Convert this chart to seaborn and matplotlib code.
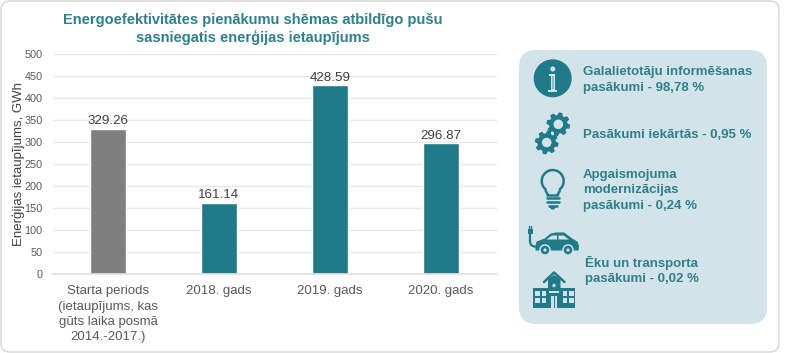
import numpy as np
import matplotlib.pyplot as plt
import seaborn as sns
import pandas as pd
from matplotlib.patches import Circle, FancyBboxPatch, Polygon, Rectangle, Wedge

kategorijas = [
    "Starta periods\n(ietaupījums, kas\ngūts laika posmā\n2014.-2017.)",
    "2018. gads",
    "2019. gads",
    "2020. gads",
]
vertibas = [329.26, 161.14, 428.59, 296.87]
y_ticks = [0, 50, 100, 150, 200, 250, 300, 350, 400, 450, 500]
virsraksts = "Energoefektivitātes pienākumu shēmas atbildīgo pušu\nsasniegatis enerģijas ietaupījums"
y_nosaukums = "Enerģijas ietaupījums, GWh"
teksti = [
    "Galalietotāju informēšanas\npasākumi - 98,78 %",
    "Pasākumi iekārtās - 0,95 %",
    "Apgaismojuma\nmodernizācijas\npasākumi - 0,24 %",
    "Ēku un transporta\npasākumi - 0,02 %",
]

TEAL = "#217a8a"
TITLE = "#2f7f8d"
PANEL = "#d2e3e9"
W, H = 800, 353

sns.set_theme(style="white")
plt.rcParams["font.family"] = ["Liberation Sans", "DejaVu Sans"]

fig = plt.figure(figsize=(8, 3.53), dpi=100, facecolor="white")

# overlay in pixel coordinates for the card, panel and icons
bg = fig.add_axes([0, 0, 1, 1], zorder=0)
bg.set_xlim(0, W)
bg.set_ylim(H, 0)
bg.axis("off")
bg.add_patch(FancyBboxPatch((1, 1), 778, 351, boxstyle="round,pad=0,rounding_size=9",
                            fc="white", ec="#d4d4d4", lw=1))
bg.add_patch(FancyBboxPatch((519, 50), 248, 274, boxstyle="round,pad=0,rounding_size=17",
                            fc=PANEL, ec="none"))

ax = fig.add_axes([52.5 / W, 1 - 274 / H, 444 / W, 220 / H], zorder=1)
ax.patch.set_alpha(0)
df = pd.DataFrame({"kategorija": kategorijas, "vertiba": vertibas})
sns.barplot(data=df, x="kategorija", y="vertiba", hue="kategorija", legend=False,
            palette=["#7f7f7f", TEAL, TEAL, TEAL], width=0.32, saturation=1, ax=ax)
ax.set_xlim(-0.5, 3.5)
ax.set_ylim(0, 500)
ax.set_yticks(y_ticks)
ax.grid(axis="y", color="#e8e8e8", lw=1)
ax.set_axisbelow(True)
sns.despine(ax=ax, left=True, top=True, right=True)
ax.spines["bottom"].set_color("#e0e0e0")
ax.tick_params(axis="y", length=0, labelsize=7.8, labelcolor="#595959", pad=7)
ax.tick_params(axis="x", length=0, labelsize=9.5, labelcolor="#595959", pad=8)
ax.set_xlabel("")
ax.set_ylabel(y_nosaukums, fontsize=9.5, color="#404040")
ax.yaxis.set_label_coords(-0.062, 0.5)
for lab in ax.get_xticklabels():
    lab.set_linespacing(1.38)
for i, v in enumerate(vertibas):
    ax.text(i, v + 4, f"{v:.2f}", ha="center", va="bottom", fontsize=9.6, color="#404040")

fig.text(253 / W, 1 - 29 / H, virsraksts, ha="center", va="center", fontsize=10.5,
         fontweight="bold", color=TITLE, linespacing=1.24)

# panel labels
bg.text(583, 80, teksti[0], va="center", fontsize=9.5, fontweight="bold", color=TITLE, linespacing=1.42)
bg.text(583, 135, teksti[1], va="center", fontsize=9.5, fontweight="bold", color=TITLE)
bg.text(583, 190.5, teksti[2], va="center", fontsize=9.5, fontweight="bold", color=TITLE, linespacing=1.4)
bg.text(585, 270.5, teksti[3], va="center", fontsize=9.5, fontweight="bold", color=TITLE, linespacing=1.38)


def gear(cx, cy, r_out, r_in, r_hole, teeth=8):
    step = 2 * np.pi / teeth
    ang = np.concatenate([[a - 0.16 * step, a + 0.16 * step, a + 0.3 * step, a + 0.7 * step]
                          for a in np.arange(teeth) * step]) + 0.2
    rad = np.tile([r_out, r_out, r_in, r_in], teeth)
    bg.add_patch(Polygon(np.c_[cx + rad * np.cos(ang), cy + rad * np.sin(ang)],
                         fc=TEAL, ec=TEAL, lw=1, joinstyle="round"))
    bg.add_patch(Circle((cx, cy), r_hole, fc=PANEL, ec="none"))


# info icon
bg.add_patch(Circle((552.7, 78.3), 19, fc=TEAL, ec="none"))
bg.add_patch(Circle((552.8, 69), 2.5, fc=PANEL, ec="none"))
bg.add_patch(Rectangle((550.7, 74), 4.4, 16, fc=PANEL, ec="none"))
bg.add_patch(Rectangle((549, 74), 3, 1.6, fc=PANEL, ec="none"))
bg.add_patch(Rectangle((548.3, 89.8), 9, 2.2, fc=PANEL, ec="none"))
bg.add_patch(Rectangle((552.2, 75.5), 1.4, 13.5, fc="#8fbac4", ec="none"))

# gears
gear(558.3, 124.3, 11.2, 8.6, 4.8)
gear(546.7, 142.5, 11.2, 8.6, 4.8)

# bulb
bg.add_patch(Wedge((552.7, 181), 12.2, 125, 55, width=2.5, fc=TEAL, ec="none"))
bg.plot([545.7, 547.5, 547.5, 558, 558, 559.7], [191, 194, 195.5, 195.5, 194, 191],
        color=TEAL, lw=1.8, solid_capstyle="round")
bg.plot([546.7, 559], [198.2, 198.2], color=TEAL, lw=1.8)
bg.plot([547, 558.5], [202, 202], color=TEAL, lw=1.8)
bg.plot([548.5, 557], [205.8, 205.8], color=TEAL, lw=1.8)
bg.add_patch(Polygon([(549.5, 207), (556, 207), (554, 209.5), (551.5, 209.5)], fc=TEAL, ec="none"))

# car with plug
bg.add_patch(Polygon([(536, 246), (537, 242), (545, 239), (551, 234), (556, 233), (564, 233),
                      (572, 239), (577, 242), (578.5, 246), (578, 250), (536, 250)],
                     fc=TEAL, ec=TEAL, lw=0.8, joinstyle="round"))
bg.add_patch(Polygon([(546.5, 239.5), (552, 235.5), (557, 235.5), (557, 239.5)], fc=PANEL, ec="none"))
bg.add_patch(Polygon([(558.5, 235.5), (563.5, 235.5), (569, 239.5), (558.5, 239.5)], fc=PANEL, ec="none"))
for cx in (545, 568):
    bg.add_patch(Circle((cx, 250), 5.8, fc=PANEL, ec="none"))
    bg.add_patch(Circle((cx, 250), 4.3, fc=TEAL, ec="none"))
    bg.add_patch(Circle((cx, 250), 1.6, fc=PANEL, ec="none"))
bg.plot([530, 530, 531, 534, 538], [232, 242, 245, 246.5, 246.5], color=TEAL, lw=1.6)
bg.add_patch(Rectangle((527.5, 228.5), 5, 5, fc=TEAL, ec="none"))
bg.plot([528.8, 528.8], [225.5, 229], color=TEAL, lw=1)
bg.plot([531.2, 531.2], [225.5, 229], color=TEAL, lw=1)

# building
bg.add_patch(Rectangle((532.7, 288), 42.5, 19.5, fc=TEAL, ec="none"))
bg.add_patch(Polygon([(548, 288), (548, 279), (554, 275), (560.5, 279), (560.5, 288)], fc=TEAL, ec="none"))
bg.plot([544, 554, 564.5], [282, 272.5, 282], color=TEAL, lw=1.8)
bg.add_patch(Circle((554, 285.5), 1.7, fc=PANEL, ec="none"))
bg.add_patch(Rectangle((549, 291), 10, 1.6, fc=PANEL, ec="none"))
for wx in (535, 541.5, 562.5, 569):
    for wy in (291, 298):
        bg.add_patch(Rectangle((wx, wy), 4.6, 4.8, fc=PANEL, ec="none"))
bg.add_patch(Rectangle((551, 296), 6, 11.5, fc=PANEL, ec="none"))
bg.add_patch(Rectangle((553.6, 296), 0.9, 11.5, fc=TEAL, ec="none"))

fig.savefig("out.png", dpi=100)
